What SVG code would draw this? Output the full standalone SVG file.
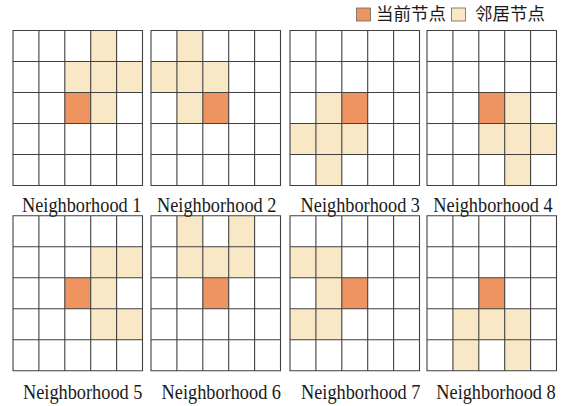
<svg xmlns="http://www.w3.org/2000/svg" xmlns:xlink="http://www.w3.org/1999/xlink" width="571" height="406" viewBox="0 0 571 406">
<style>
.cur{fill:#EE9461}
.nb{fill:#F9E8C5}
.grid{fill:none;stroke:#404040;stroke-width:1.1}
.lbl{font-family:"Liberation Serif","Times New Roman",serif;font-size:18.3px;fill:#1a1a1a;text-anchor:middle}
.leg{font-family:"Noto Sans CJK SC","Noto Sans",sans-serif;font-size:17.5px;fill:#1a1a1a}
.legbox{stroke:#666;stroke-width:0.8}
</style>
<defs>
<path id="g" class="grid" d="M0,0H129.5V155H0Z M25.9,0V155 M51.8,0V155 M77.7,0V155 M103.6,0V155 M0,31H129.5 M0,62H129.5 M0,93H129.5 M0,124H129.5"/>
<rect id="c" class="cur" width="25.9" height="31"/>
<rect id="n" class="nb" width="25.9" height="31"/>
</defs>
<g id="legend">
<rect class="cur legbox" x="356.5" y="8" width="14" height="13"/>
<text class="leg" x="376" y="20">当前节点</text>
<rect class="nb legbox" x="451.5" y="8" width="14" height="13"/>
<text class="leg" x="475" y="20">邻居节点</text>
</g>
<g id="n1" transform="translate(13,30.5)">
<use xlink:href="#c" x="51.8" y="62"/>
<use xlink:href="#n" x="77.7" y="0"/><use xlink:href="#n" x="51.8" y="31"/><use xlink:href="#n" x="77.7" y="31"/><use xlink:href="#n" x="103.6" y="31"/><use xlink:href="#n" x="77.7" y="62"/>
<use xlink:href="#g"/>
</g>
<g id="n2" transform="translate(151,30.5)">
<use xlink:href="#c" x="51.8" y="62"/>
<use xlink:href="#n" x="25.9" y="0"/><use xlink:href="#n" x="0" y="31"/><use xlink:href="#n" x="25.9" y="31"/><use xlink:href="#n" x="51.8" y="31"/><use xlink:href="#n" x="25.9" y="62"/>
<use xlink:href="#g"/>
</g>
<g id="n3" transform="translate(290,30.5)">
<use xlink:href="#c" x="51.8" y="62"/>
<use xlink:href="#n" x="25.9" y="62"/><use xlink:href="#n" x="0" y="93"/><use xlink:href="#n" x="25.9" y="93"/><use xlink:href="#n" x="51.8" y="93"/><use xlink:href="#n" x="25.9" y="124"/>
<use xlink:href="#g"/>
</g>
<g id="n4" transform="translate(427,30.5)">
<use xlink:href="#c" x="51.8" y="62"/>
<use xlink:href="#n" x="77.7" y="62"/><use xlink:href="#n" x="51.8" y="93"/><use xlink:href="#n" x="77.7" y="93"/><use xlink:href="#n" x="103.6" y="93"/><use xlink:href="#n" x="77.7" y="124"/>
<use xlink:href="#g"/>
</g>
<g id="n5" transform="translate(13,215.8)">
<use xlink:href="#c" x="51.8" y="62"/>
<use xlink:href="#n" x="77.7" y="31"/><use xlink:href="#n" x="103.6" y="31"/><use xlink:href="#n" x="77.7" y="62"/><use xlink:href="#n" x="77.7" y="93"/><use xlink:href="#n" x="103.6" y="93"/>
<use xlink:href="#g"/>
</g>
<g id="n6" transform="translate(151,215.8)">
<use xlink:href="#c" x="51.8" y="62"/>
<use xlink:href="#n" x="25.9" y="0"/><use xlink:href="#n" x="77.7" y="0"/><use xlink:href="#n" x="25.9" y="31"/><use xlink:href="#n" x="51.8" y="31"/><use xlink:href="#n" x="77.7" y="31"/>
<use xlink:href="#g"/>
</g>
<g id="n7" transform="translate(290,215.8)">
<use xlink:href="#c" x="51.8" y="62"/>
<use xlink:href="#n" x="0" y="31"/><use xlink:href="#n" x="25.9" y="31"/><use xlink:href="#n" x="25.9" y="62"/><use xlink:href="#n" x="0" y="93"/><use xlink:href="#n" x="25.9" y="93"/>
<use xlink:href="#g"/>
</g>
<g id="n8" transform="translate(427,215.8)">
<use xlink:href="#c" x="51.8" y="62"/>
<use xlink:href="#n" x="25.9" y="93"/><use xlink:href="#n" x="51.8" y="93"/><use xlink:href="#n" x="77.7" y="93"/><use xlink:href="#n" x="25.9" y="124"/><use xlink:href="#n" x="77.7" y="124"/>
<use xlink:href="#g"/>
</g>
<g id="labels">
<text class="lbl" transform="translate(81.7,211.7) scale(1,1.19)">Neighborhood 1</text>
<text class="lbl" transform="translate(216.7,211.7) scale(1,1.19)">Neighborhood 2</text>
<text class="lbl" transform="translate(360.3,211.7) scale(1,1.19)">Neighborhood 3</text>
<text class="lbl" transform="translate(493,211.7) scale(1,1.19)">Neighborhood 4</text>
<text class="lbl" transform="translate(82.7,399.3) scale(1,1.19)">Neighborhood 5</text>
<text class="lbl" transform="translate(221.3,399.3) scale(1,1.19)">Neighborhood 6</text>
<text class="lbl" transform="translate(360.7,399.3) scale(1,1.19)">Neighborhood 7</text>
<text class="lbl" transform="translate(496,399.3) scale(1,1.19)">Neighborhood 8</text>
</g>
</svg>
